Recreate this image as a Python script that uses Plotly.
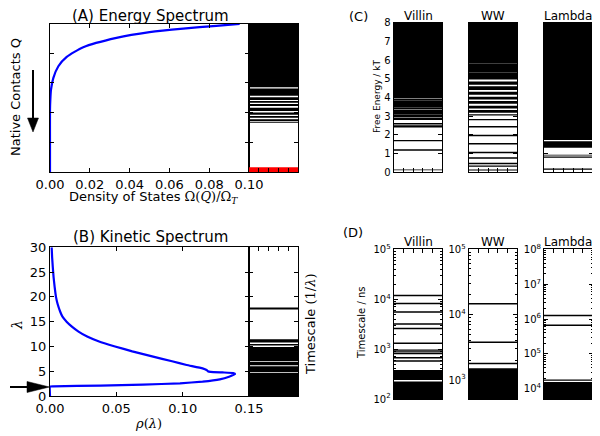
import plotly.graph_objects as go

W, H = 600, 436
OX, OY = 8, 8   # page body margin of the browser window

# ---------------- data ----------------
# (A) Energy spectrum: density of states vs native contacts (fraction, bottom -> top)
a_density = [0.0, 0.0, 0.0, 0.00017, 0.0005, 0.0017, 0.0042, 0.0084, 0.0167, 0.0334, 0.050, 0.0669, 0.0836, 0.0953]
a_q = [0.0, 0.2, 0.42, 0.488, 0.555, 0.634, 0.712, 0.775, 0.84, 0.903, 0.942, 0.966, 0.984, 0.998]
a_q_ticks = [0.2, 0.4, 0.6, 0.8]
a_x_ticks = [0.0, 0.02, 0.04, 0.06, 0.08, 0.10]
a_levels = [(0.571, 1.0), (0.513, 0.563), (0.485, 0.503), (0.467, 0.478), (0.444, 0.458),
            (0.410, 0.433), (0.386, 0.401), (0.365, 0.377), (0.343, 0.355), (0.332, 0.339)]
a_native = [(0.0, 0.032)]

# (B) Kinetic spectrum: rho(lambda)
b_rho = [0.00125, 0.0016, 0.0021, 0.0027, 0.0035, 0.0045, 0.0058, 0.0077, 0.0094, 0.0125, 0.0165,
         0.0215, 0.028, 0.037, 0.049, 0.062, 0.077, 0.092, 0.103, 0.115, 0.118, 0.119, 0.121,
         0.130, 0.138, 0.1395, 0.135, 0.128, 0.115, 0.098, 0.070, 0.038, 0.0025, 0.0, 0.0]
b_lambda = [30, 28, 26, 24, 22, 20, 18.5, 17, 16, 15, 14, 13, 12, 11, 10, 9, 8, 7, 6.26, 5.58,
            5.25, 5.0, 4.85, 4.75, 4.65, 4.45, 3.9, 3.36, 2.9, 2.56, 2.29, 2.09, 1.95, 1.9, 0]
b_x_ticks = [0.0, 0.05, 0.10, 0.15]
b_levels = [(17.45, 17.85), (10.8, 11.45), (10.2, 10.5), (7.08, 9.9), (6.18, 6.92),
            (4.82, 6.02), (0.0, 4.68)]

# (C) Free energy levels (kT)
proteins = ["Villin", "WW", "Lambda"]
c_villin = [(3.95, 8.0), (3.82, 3.93), (3.47, 3.80), (3.36, 3.45), (3.07, 3.34), (2.92, 3.05),
            (2.79, 2.90), (2.55, 2.63), (2.38, 2.50), (1.645, 1.72), (1.145, 1.22), (0.15, 0.19),
            (0.09, 0.135)]
c_ww = [(5.82, 8.0), (5.32, 5.80), (4.96, 5.30), (4.68, 4.85), (4.40, 4.60), (4.14, 4.30),
        (3.88, 4.03), (3.66, 3.80), (3.40, 3.55), (3.17, 3.32), (3.03, 3.10), (2.77, 2.845),
        (2.39, 2.465), (1.92, 1.995), (1.48, 1.555), (1.01, 1.085), (0.71, 0.785), (0.54, 0.575),
        (0.42, 0.49), (0.28, 0.345), (0.08, 0.135)]
c_lambda = [(1.71, 8.0), (1.30, 1.65), (0.885, 0.93), (0.85, 0.865), (0.77, 0.825), (0.12, 0.19)]
c_ticks = [0, 1, 2, 3, 4, 5, 6, 7, 8]

# (D) Timescales (ns)
d_villin = [(11482, 12303), (7943, 8511), (5370, 5754), (3090, 3311), (2512, 2692), (1259, 1349),
            (923, 977), (851, 902), (785, 832), (646, 692), (556, 596), (240, 380), (90, 224)]
d_ww = [(14289, 15136), (3673, 3890), (1738, 1841), (450, 1514)]
d_lambda = [(1.216e6, 1.334e6), (6.383e5, 6.998e5), (16982, 18621), (4000, 15849)]
d_log_ranges = [(2.0, 5.0), (2.71, 5.0), (3.71, 8.0)]
d_tick_exps = [[2, 3, 4, 5], [3, 4, 5], [4, 5, 6, 7, 8]]

# ---------------- helpers ----------------
FONT = "DejaVu Sans"
SERIF = "DejaVu Serif"


def px(x):
    return (x - OX) / W


def py(y):
    return 1 - (y - OY) / H


def band_trace(bands, n, color="black"):
    xs, ys = [], []
    for lo, hi in bands:
        xs += [0, 1, 1, 0, 0, None]
        ys += [lo, lo, hi, hi, lo, None]
    sfx = "" if n == 1 else str(n)
    return go.Scatter(x=xs, y=ys, xaxis="x" + sfx, yaxis="y" + sfx, mode="lines",
                      fill="toself", fillcolor=color, line=dict(width=0, color=color),
                      hoverinfo="skip", showlegend=False)


def axis(domain, rng, fsize=13, **kw):
    d = dict(domain=domain, range=rng, showline=True, linecolor="black", linewidth=1,
             mirror="allticks", ticks="inside", ticklen=4, tickwidth=1, tickcolor="black",
             showgrid=False, zeroline=False, fixedrange=True, automargin=False,
             tickfont=dict(family=FONT, size=fsize, color="black"))
    d.update(kw)
    return d


fig = go.Figure()

# curves
fig.add_trace(go.Scatter(x=a_density, y=a_q, mode="lines",
                         line=dict(color="#0000ff", width=2.2, shape="spline", smoothing=0.6),
                         xaxis="x", yaxis="y", showlegend=False, hoverinfo="skip"))
fig.add_trace(go.Scatter(x=b_rho, y=b_lambda, mode="lines",
                         line=dict(color="#0000ff", width=2.2, shape="spline", smoothing=0.3),
                         xaxis="x3", yaxis="y3", showlegend=False, hoverinfo="skip"))

# spectra strips
fig.add_trace(band_trace(a_levels, 2))
fig.add_trace(band_trace(a_native, 2, "#ff0000"))
fig.add_trace(band_trace(b_levels, 4))
for i, bands in enumerate([c_villin, c_ww, c_lambda]):
    fig.add_trace(band_trace(bands, 5 + i))
for i, bands in enumerate([d_villin, d_ww, d_lambda]):
    fig.add_trace(band_trace(bands, 8 + i))

# ---------------- layout ----------------
main_x = [px(50), px(249)]
strip_x = [px(249), px(298)]
row1_y = [py(172), py(23.5)]
row2_y = [py(396), py(247.3)]
c_x = [[px(393.7), px(442.3)], [px(468.7), px(517.3)], [px(544), px(592.7)]]
c_y = [py(172), py(22.7)]
d_y = [py(399), py(249.3)]
strip_ticks = [0.2, 0.4, 0.6, 0.8]

lay = {}
lay["xaxis"] = axis(main_x, [0, 0.1], anchor="y", tickvals=a_x_ticks, tickformat=".2f")
lay["yaxis"] = axis(row1_y, [0, 1], anchor="x", tickvals=a_q_ticks, showticklabels=False)
lay["xaxis2"] = axis(strip_x, [0, 1], anchor="y2", tickvals=strip_ticks, showticklabels=False)
lay["yaxis2"] = axis(row1_y, [0, 1], anchor="x2", tickvals=a_q_ticks, showticklabels=False)
lay["xaxis3"] = axis(main_x, [0, 0.15], anchor="y3", tickvals=b_x_ticks, tickformat=".2f")
lay["yaxis3"] = axis(row2_y, [0, 30], anchor="x3", dtick=5, tick0=0)
lay["xaxis4"] = axis(strip_x, [0, 1], anchor="y4", tickvals=strip_ticks, showticklabels=False)
lay["yaxis4"] = axis(row2_y, [0, 30], anchor="x4", dtick=5, tick0=0, showticklabels=False)
for i in range(3):
    n = 5 + i
    lay["xaxis%d" % n] = axis(c_x[i], [0, 1], anchor="y%d" % n, tickvals=strip_ticks, showticklabels=False)
    lay["yaxis%d" % n] = axis(c_y, [0, 8], fsize=10, anchor="x%d" % n, tickvals=c_ticks,
                              showticklabels=(i == 0))
for i in range(3):
    n = 8 + i
    lay["xaxis%d" % n] = axis(c_x[i], [0, 1], anchor="y%d" % n, tickvals=strip_ticks, showticklabels=False)
    exps = d_tick_exps[i]
    lay["yaxis%d" % n] = axis(d_y, list(d_log_ranges[i]), fsize=10, anchor="x%d" % n, type="log",
                              tickvals=[10 ** e for e in exps],
                              ticktext=["10<sup>%d</sup>" % e for e in exps],
                              minor=dict(ticks="inside", ticklen=2, tickcolor="black", dtick="D1", showgrid=False))


def label(x, y, text, size=13, angle=0):
    return dict(x=px(x), y=py(y), xref="paper", yref="paper", text=text, showarrow=False,
                textangle=angle, xanchor="center", yanchor="middle",
                font=dict(family=FONT, size=size, color="black"))


math = lambda s: '<span style="font-family:%s">%s</span>' % (SERIF, s)

ann = [
    label(150, 16, "(A) Energy Spectrum", 15),
    label(150, 237, "(B) Kinetic Spectrum", 15),
    label(15, 97, "Native Contacts Q", 13, -90),
    label(153, 198, "Density of States " + math("Ω(<i>Q</i>)/Ω<sub><i>T</i></sub>"), 13),
    label(17, 325, math("<i>λ</i>"), 14, -90),
    label(148, 423, math("<i>ρ</i>(<i>λ</i>)"), 13),
    label(310, 324, "Timescale " + math("(1/<i>λ</i>)"), 13, -90),
    label(358, 16, "(C)", 13),
    label(377, 97, "Free Energy / kT", 9, -90),
    label(353, 233, "(D)", 13),
    label(361, 323, "Timescale / ns", 10, -90),
]
for i, name in enumerate(proteins):
    cx = ((c_x[i][0] + c_x[i][1]) / 2) * W + OX
    ann.append(label(cx, 15.5, name, 12))
    ann.append(label(cx, 242, name, 12))

# arrows (decorations)
shapes = [
    dict(type="line", xref="paper", yref="paper", x0=px(33), y0=py(70), x1=px(33), y1=py(120),
         line=dict(color="black", width=2)),
    dict(type="path", xref="paper", yref="paper",
         path="M%f,%f L%f,%f L%f,%f Z" % (px(27.5), py(118), px(38.5), py(118), px(33), py(132)),
         fillcolor="black", line=dict(color="black", width=0.5)),
    dict(type="line", xref="paper", yref="paper", x0=px(10), y0=py(387), x1=px(28), y1=py(387),
         line=dict(color="black", width=2)),
    dict(type="path", xref="paper", yref="paper",
         path="M%f,%f L%f,%f L%f,%f Z" % (px(27), py(381.5), px(27), py(392.5), px(49.5), py(387)),
         fillcolor="black", line=dict(color="black", width=0.5)),
]

fig.update_layout(template="none", width=W, height=H,
                  margin=dict(l=0, r=0, t=0, b=0, pad=0, autoexpand=False),
                  paper_bgcolor="white", plot_bgcolor="white",
                  font=dict(family=FONT, color="black"), showlegend=False,
                  annotations=ann, shapes=shapes, **lay)

fig.write_html("out.html")
